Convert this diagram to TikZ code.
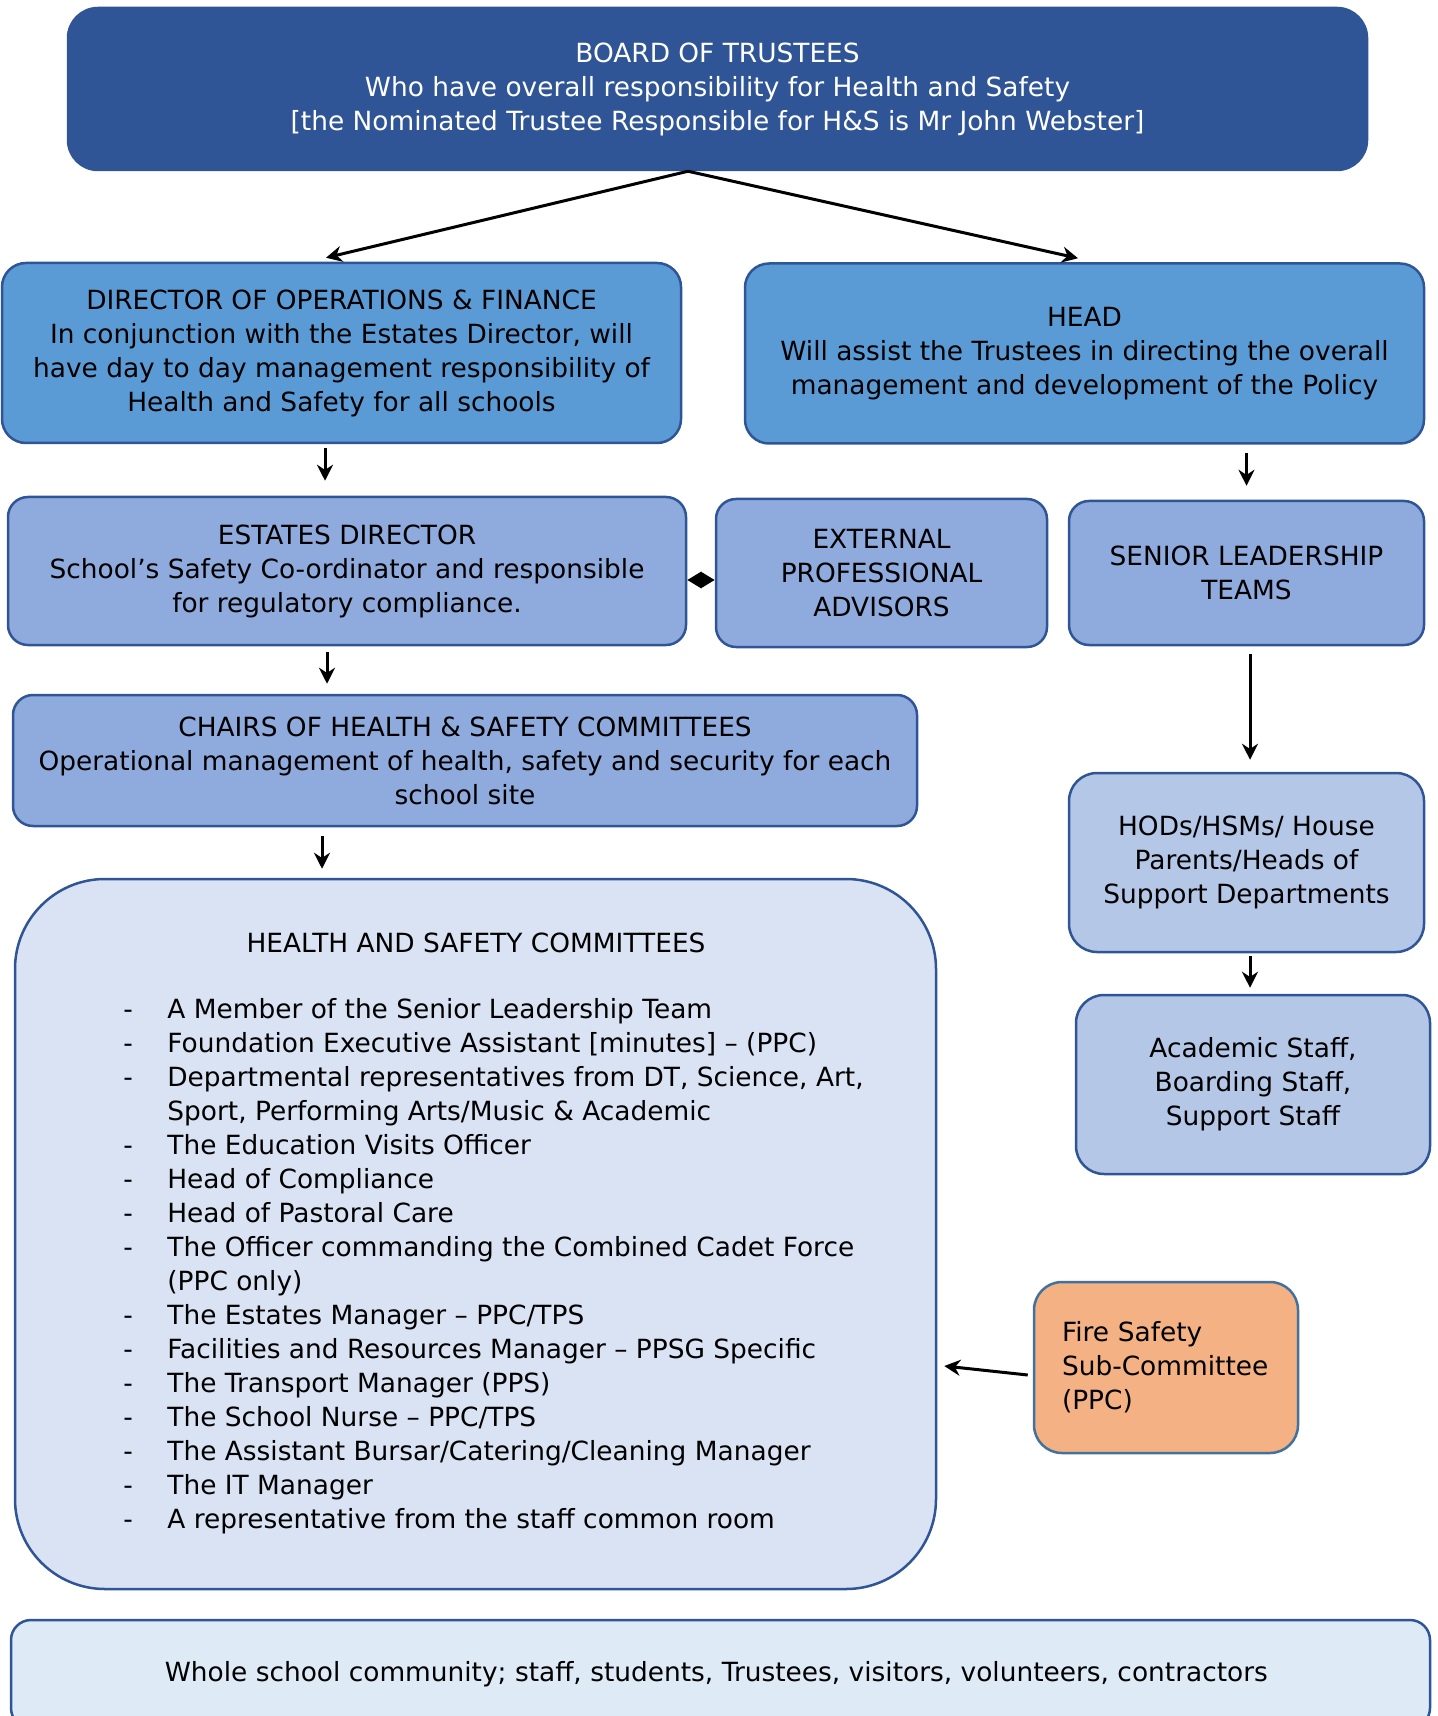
\documentclass[tikz,border=0pt]{standalone}
\usepackage{fontspec}
\setmainfont{DejaVu Sans}
\usepackage{tikz}
\usetikzlibrary{arrows.meta, positioning, calc}
\definecolor{boardblue}{RGB}{47, 85, 151}
\definecolor{edgeblue}{RGB}{47, 85, 151}
\definecolor{midblue}{RGB}{91, 155, 213}
\definecolor{paleblue}{RGB}{143, 170, 220}
\definecolor{lightblue}{RGB}{180, 199, 231}
\definecolor{mistblue}{RGB}{218, 227, 243}
\definecolor{skyblue}{RGB}{222, 235, 247}
\definecolor{firefill}{RGB}{244, 177, 131}
\definecolor{fireedge}{RGB}{65, 113, 156}
\newcommand{\chartfont}{\fontsize{13.2}{17}\selectfont}
\newcommand{\hsrow}[1]{\makebox[22pt][l]{-}#1}
\tikzset{
  chartbox/.style={draw=edgeblue, line width=1.25pt, align=center, inner sep=0pt, font=\chartfont},
  chartarrow/.style={line width=1.5pt, -{Stealth[length=8pt, width=8pt]}}
}

\begin{document}
\begin{tikzpicture}[x=0.5pt, y=-0.5pt]
  \useasboundingbox (0,0) rectangle (1438,1716);

  % top of the chart
  \node[chartbox, fill=boardblue, text=white, rounded corners=15pt, minimum width=649.5pt, minimum height=81pt] (board) at (717.5,89) {
    BOARD OF TRUSTEES\\
    Who have overall responsibility for Health and Safety\\
    {[the Nominated Trustee Responsible for H\&S is Mr John Webster]}
  };

  \node[chartbox, fill=midblue, rounded corners=12pt, minimum width=339.5pt, minimum height=90pt] (director) at (341.5,353) {
    DIRECTOR OF OPERATIONS \& FINANCE\\
    In conjunction with the Estates Director, will\\
    have day to day management responsibility of\\
    Health and Safety for all schools
  };
  \node[chartbox, fill=midblue, rounded corners=12pt, minimum width=339.5pt, minimum height=90pt] (head) at (1084.5,353.5) {
    HEAD\\
    Will assist the Trustees in directing the overall\\
    management and development of the Policy
  };

  % second row
  \node[chartbox, fill=paleblue, rounded corners=10pt, minimum width=339pt, minimum height=74pt] (estates) at (347,571) {
    ESTATES DIRECTOR\\
    School’s Safety Co-ordinator and responsible\\
    for regulatory compliance.
  };
  \node[chartbox, fill=paleblue, rounded corners=10pt, minimum width=165.5pt, minimum height=74pt] (advisors) at (881.5,573) {
    EXTERNAL\\
    PROFESSIONAL\\
    ADVISORS
  };
  \node[chartbox, fill=paleblue, rounded corners=10pt, minimum width=177.5pt, minimum height=72pt] (slt) at (1246.5,573) {
    SENIOR LEADERSHIP\\
    TEAMS
  };

  \node[chartbox, fill=paleblue, rounded corners=10pt, minimum width=452pt, minimum height=65.5pt] (chairs) at (465,760.5) {
    CHAIRS OF HEALTH \& SAFETY COMMITTEES\\
    Operational management of health, safety and security for each\\
    school site
  };

  \node[chartbox, fill=lightblue, rounded corners=14pt, minimum width=177.5pt, minimum height=89.5pt] (hods) at (1246.5,862.5) {
    HODs/HSMs/ House\\
    Parents/Heads of\\
    Support Departments
  };
  \node[chartbox, fill=lightblue, rounded corners=14pt, minimum width=177pt, minimum height=89.5pt] (staff) at (1253,1084.5) {
    Academic Staff,\\
    Boarding Staff,\\
    Support Staff
  };

  % committees
  \node[chartbox, fill=mistblue, rounded corners=45pt, minimum width=460.5pt, minimum height=355pt] (committees) at (475.5,1234) {};
  \node[font=\chartfont, inner sep=0pt] (comtitle) at (476,943) {HEALTH AND SAFETY COMMITTEES};
  \node[font=\chartfont, align=left, inner sep=0pt, anchor=west] (comlist) at (123,1266.5) {
    \hsrow{A Member of the Senior Leadership Team}\\
    \hsrow{Foundation Executive Assistant [minutes] – (PPC)}\\
    \hsrow{Departmental representatives from DT, Science, Art,}\\
    \hspace*{22pt}Sport, Performing Arts/Music \& Academic\\
    \hsrow{The Education Visits Officer}\\
    \hsrow{Head of Compliance}\\
    \hsrow{Head of Pastoral Care}\\
    \hsrow{The Officer commanding the Combined Cadet Force}\\
    \hspace*{22pt}(PPC only)\\
    \hsrow{The Estates Manager – PPC/TPS}\\
    \hsrow{Facilities and Resources Manager – PPSG Specific}\\
    \hsrow{The Transport Manager (PPS)}\\
    \hsrow{The School Nurse – PPC/TPS}\\
    \hsrow{The Assistant Bursar/Catering/Cleaning Manager}\\
    \hsrow{The IT Manager}\\
    \hsrow{A representative from the staff common room}
  };

  \node[chartbox, draw=fireedge, fill=firefill, rounded corners=14pt, minimum width=132pt, minimum height=85.5pt, align=left, text width=104pt, inner xsep=14pt] (fire) at (1166,1367.5) {
    Fire Safety\\
    \mbox{Sub-Committee}\\
    (PPC)
  };

  \node[chartbox, fill=skyblue, rounded corners=10pt, minimum width=709.5pt, minimum height=54pt] (community) at (720.5,1674) {
    Whole school community; staff, students, Trustees, visitors, volunteers, contractors
  };

  % connectors
  \draw[chartarrow] ([xshift=-14.75pt]board.south) -- ([xshift=-7.75pt,yshift=2pt]director.north);
  \draw[chartarrow] ([xshift=-14.75pt]board.south) -- ([xshift=-3.25pt,yshift=2pt]head.north);
  \draw[chartarrow] ([xshift=-8.25pt,yshift=-2pt]director.south) -- ([xshift=-11pt,yshift=7.5pt]estates.north);
  \draw[chartarrow] ([yshift=-4pt]head.south -| slt.north) -- ([yshift=7pt]slt.north);
  \draw[line width=1.5pt, {Triangle[length=7pt, width=8pt]}-{Triangle[length=7pt, width=8pt]}] ([yshift=-4.5pt]estates.east) -- ([yshift=-4.5pt]estates.east -| advisors.west);
  \draw[chartarrow] ([xshift=-10pt,yshift=-3pt]estates.south) -- ([xshift=-69pt,yshift=5pt]chairs.north);
  \draw[chartarrow] ([xshift=1.75pt,yshift=-4pt]slt.south) -- ([xshift=1.75pt,yshift=6pt]hods.north);
  \draw[chartarrow] ([xshift=1.75pt,yshift=-1.5pt]hods.south) -- ([xshift=-1.5pt,yshift=3pt]staff.north);
  \draw[chartarrow] ([xshift=-71.5pt,yshift=-4.5pt]chairs.south) -- ([xshift=-76.75pt,yshift=4.5pt]committees.north);
  \draw[chartarrow] ([xshift=-2.5pt,yshift=-3.75pt]fire.west) -- ([xshift=3.5pt,yshift=-66pt]committees.east);
\end{tikzpicture}
\end{document}
